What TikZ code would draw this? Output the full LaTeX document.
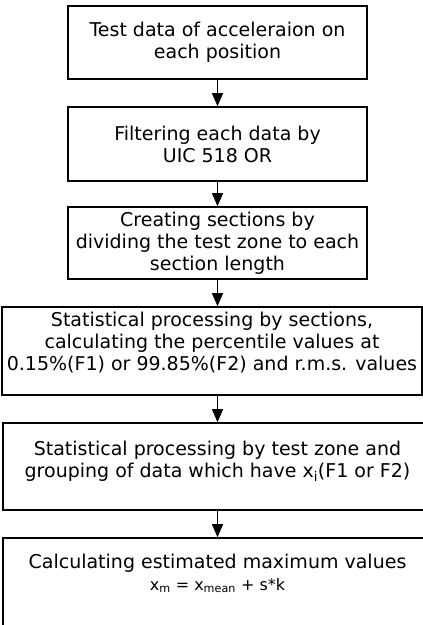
\documentclass[tikz,border=0pt]{standalone}
\usepackage{fontspec}
\setmainfont{DejaVu Sans}
\usetikzlibrary{arrows.meta}
\tikzset{
  stepbox/.style={draw, line width=1.6pt, align=center, inner sep=0pt,
    font=\fontsize{19}{22}\selectfont},
  flow/.style={line width=0.9pt, -{Triangle[width=11pt,length=13pt]}}
}
\newcommand{\formulafont}{\fontsize{16}{22}\selectfont}
\begin{document}
\begin{tikzpicture}[x=1pt, y=-1pt]
                \useasboundingbox (0,0) rectangle (423,625);
                \node[stepbox, minimum width=299pt, minimum height=73pt] (data) at (217.5,42.5)
                    {Test data of acceleraion on\\each position};
                \node[stepbox, minimum width=299pt, minimum height=74pt] (filter) at (217.5,144)
                    {Filtering each data by\\UIC 518 OR};
                \node[stepbox, minimum width=299pt, minimum height=72pt] (sections) at (217.5,243)
                    {Creating sections by\\dividing the test zone to each\\section length};
                \node[stepbox, minimum width=420pt, minimum height=88pt, text depth=20pt] (persection) at (212,351)
                    {Statistical processing by sections,\\calculating the percentile values at\\0.15\%(F1) or 99.85\%(F2) and r.m.s. values};
                \node[stepbox, minimum width=429pt, minimum height=87pt, text depth=15pt] (perzone) at (217.5,466.5)
                    {Statistical processing by test zone and\\grouping of data which have x\textsubscript{i}(F1 or F2)};
                \node[stepbox, minimum width=429pt, minimum height=102pt, text depth=34pt] (maxvalue) at (217.5,589)
                    {Calculating estimated maximum values\\{\formulafont x\textsubscript{m} = x\textsubscript{mean} + s*k}};
                \draw[flow] (data.south) -- (filter.north);
                \draw[flow] (filter.south) -- (sections.north);
                \draw[flow] (sections.south) -- (sections.south |- persection.north);
                \draw[flow] (sections.south |- persection.south) -- (sections.south |- perzone.north);
                \draw[flow] (sections.south |- perzone.south) -- (sections.south |- maxvalue.north);
            \end{tikzpicture}
\end{document}
